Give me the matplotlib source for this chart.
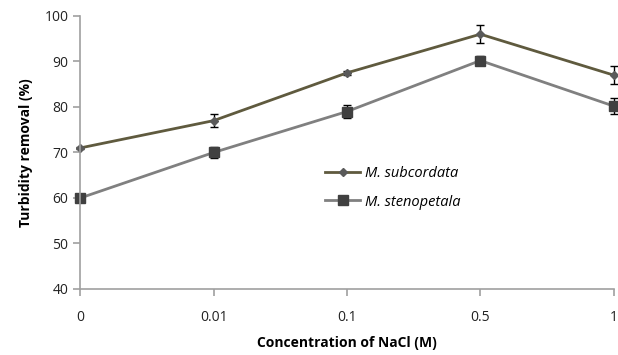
import matplotlib.pyplot as plt
from matplotlib.lines import Line2D
import numpy as np

# データ
conc_labels = ["0", "0.01", "0.1", "0.5", "1"]
subcordata = [71, 77, 87.5, 96, 87]
subcordata_err = [0.3, 1.4, 0.4, 2.0, 2.0]
stenopetala = [60, 70, 79, 90.2, 80.2]
stenopetala_err = [0.3, 1.3, 1.4, 1.0, 1.8]

plt.rcParams['font.family'] = ['Open Sans', 'DejaVu Sans']

fig = plt.figure(figsize=(6.18, 3.55), dpi=100)
ax = fig.add_axes([0.130, 0.186, 0.863, 0.769])

x = np.arange(len(conc_labels))

sub_style = dict(color='#5f5a3e', lw=2, marker='D', ms=4, mfc='#5a5a5a', mec='#5a5a5a')
sten_style = dict(color='#808080', lw=2, marker='s', ms=6.5, mfc='#404040', mec='#404040')

ax.errorbar(x, subcordata, yerr=subcordata_err, ecolor='black', elinewidth=1,
            capsize=3, capthick=1, clip_on=False, **sub_style)
ax.errorbar(x, stenopetala, yerr=stenopetala_err, ecolor='black', elinewidth=1,
            capsize=3, capthick=1, clip_on=False, **sten_style)

# 軸
ax.set_xlim(0, 4)
ax.set_ylim(40, 100)
ax.set_xticks(x)
ax.set_xticklabels(conc_labels)
ax.set_yticks(np.arange(40, 101, 10))
for s in ['top', 'right']:
    ax.spines[s].set_visible(False)
for s in ['left', 'bottom']:
    ax.spines[s].set_color('#a0a0a0')
    ax.spines[s].set_linewidth(1.2)
ax.tick_params(axis='both', colors='#a0a0a0', labelcolor='#222222',
               labelsize=10, length=5, width=1.2)
ax.tick_params(axis='x', pad=10)

ax.set_xlabel("Concentration of NaCl (M)", fontsize=10, fontweight='bold', labelpad=8)
ax.set_ylabel("Turbidity removal (%)", fontsize=10, fontweight='bold', labelpad=8)

# 凡例
handles = [Line2D([], [], **sub_style), Line2D([], [], **sten_style)]
ax.legend(handles, ['M. subcordata', 'M. stenopetala'],
          loc='center left', bbox_to_anchor=(0.435, 0.37), frameon=False,
          handlelength=2.4, handletextpad=0.3, labelspacing=0.9,
          prop={'style': 'italic', 'size': 10.5})

plt.savefig('out.png', dpi=100)
